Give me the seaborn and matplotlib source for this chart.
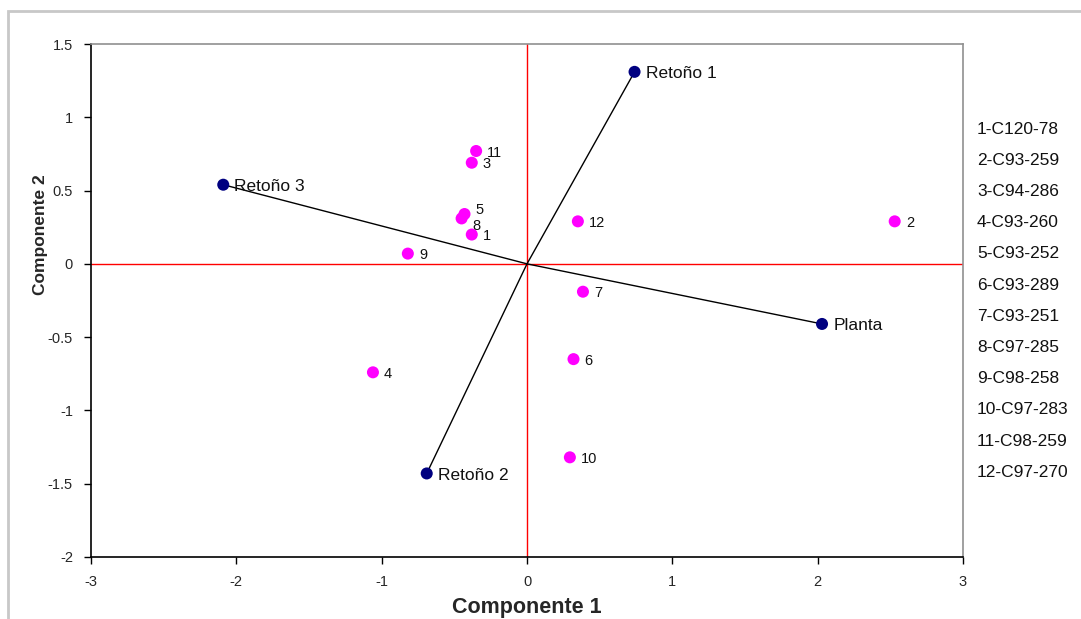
import numpy as np
import pandas as pd
import matplotlib.pyplot as plt
import seaborn as sns
from matplotlib.patches import Rectangle

# ── Data ──────────────────────────────────────────────────────────────────────
clone_ids = ["1", "2", "3", "4", "5", "6", "7", "8", "9", "10", "11", "12"]
clone_x = [-0.38, 2.53, -0.38, -1.06, -0.43, 0.32, 0.385, -0.45, -0.82, 0.295, -0.35, 0.35]
clone_y = [0.20, 0.29, 0.69, -0.74, 0.34, -0.65, -0.19, 0.31, 0.07, -1.32, 0.77, 0.29]

var_names = ["Retoño 1", "Retoño 2", "Retoño 3", "Planta"]
var_x = [0.74, -0.69, -2.09, 2.03]
var_y = [1.31, -1.43, 0.54, -0.41]

clone_names = ["1-C120-78", "2-C93-259", "3-C94-286", "4-C93-260", "5-C93-252",
               "6-C93-289", "7-C93-251", "8-C97-285", "9-C98-258", "10-C97-283",
               "11-C98-259", "12-C97-270"]

x_ticks = [-3, -2, -1, 0, 1, 2, 3]
y_ticks = [-2, -1.5, -1, -0.5, 0, 0.5, 1, 1.5]

clones = pd.DataFrame({"id": clone_ids, "c1": clone_x, "c2": clone_y})
variables = pd.DataFrame({"name": var_names, "c1": var_x, "c2": var_y})

# small label nudges so the 5/8 pair stays readable (offset points)
label_offset = {"5": (8, 0), "8": (8, -8)}

# ── Style ─────────────────────────────────────────────────────────────────────
sns.set_style("white")
plt.rcParams["font.family"] = ["Liberation Sans", "DejaVu Sans"]

fig = plt.figure(figsize=(10.81, 6.19), dpi=100)
ax = fig.add_axes([91 / 1081, 62 / 619, 872 / 1081, 513 / 619])

# outer grey frame of the chart area
fig.patches.append(Rectangle((8 / 1081, -0.05), 1.2, 1 - 11 / 619 + 0.05,
                             transform=fig.transFigure, fill=False,
                             edgecolor="#c8c8c8", lw=2, zorder=0))

# reference axes through the origin
ax.axhline(0, color="red", lw=1, zorder=1)
ax.axvline(0, color="red", lw=1, zorder=1)

# variable vectors
for _, r in variables.iterrows():
    ax.plot([0, r["c1"]], [0, r["c2"]], color="black", lw=1, zorder=2)

sns.scatterplot(data=clones, x="c1", y="c2", color="#ff00ff", s=75,
                edgecolor="none", ax=ax, zorder=3)
sns.scatterplot(data=variables, x="c1", y="c2", color="#000080", s=75,
                edgecolor="none", ax=ax, zorder=3)

for _, r in clones.iterrows():
    off = label_offset.get(r["id"], (8, -4))
    ax.annotate(r["id"], (r["c1"], r["c2"]), xytext=off,
                textcoords="offset points", fontsize=10.5, color="#111111")
for _, r in variables.iterrows():
    ax.annotate(r["name"], (r["c1"], r["c2"]), xytext=(8, -4.5),
                textcoords="offset points", fontsize=12.5, color="#111111")

ax.set_xlim(-3, 3)
ax.set_ylim(-2, 1.5)
ax.set_xticks(x_ticks)
ax.set_yticks(y_ticks)
ax.set_xticklabels([f"{v:g}" for v in x_ticks], fontsize=10.5)
ax.set_yticklabels([f"{v:g}" for v in y_ticks], fontsize=10.5)
ax.tick_params(direction="out", length=5, width=1, color="black",
               bottom=True, left=True, pad=8)

for side in ("left", "bottom"):
    ax.spines[side].set_color("black")
    ax.spines[side].set_linewidth(1.2)
for side in ("top", "right"):
    ax.spines[side].set_color("#909090")
    ax.spines[side].set_linewidth(1.2)

ax.set_xlabel("Componente 1", fontsize=15.5, fontweight="bold", labelpad=6)
ax.set_ylabel("Componente 2", fontsize=12.5, fontweight="bold")
ax.yaxis.set_label_coords(-0.049, 0.628)

# list of clones on the right
for i, name in enumerate(clone_names):
    fig.text(977 / 1081, 1 - (129 + i * 31.2) / 619, name, fontsize=12.5,
             va="center", ha="left", color="#111111")

fig.savefig("out.png", dpi=100)
